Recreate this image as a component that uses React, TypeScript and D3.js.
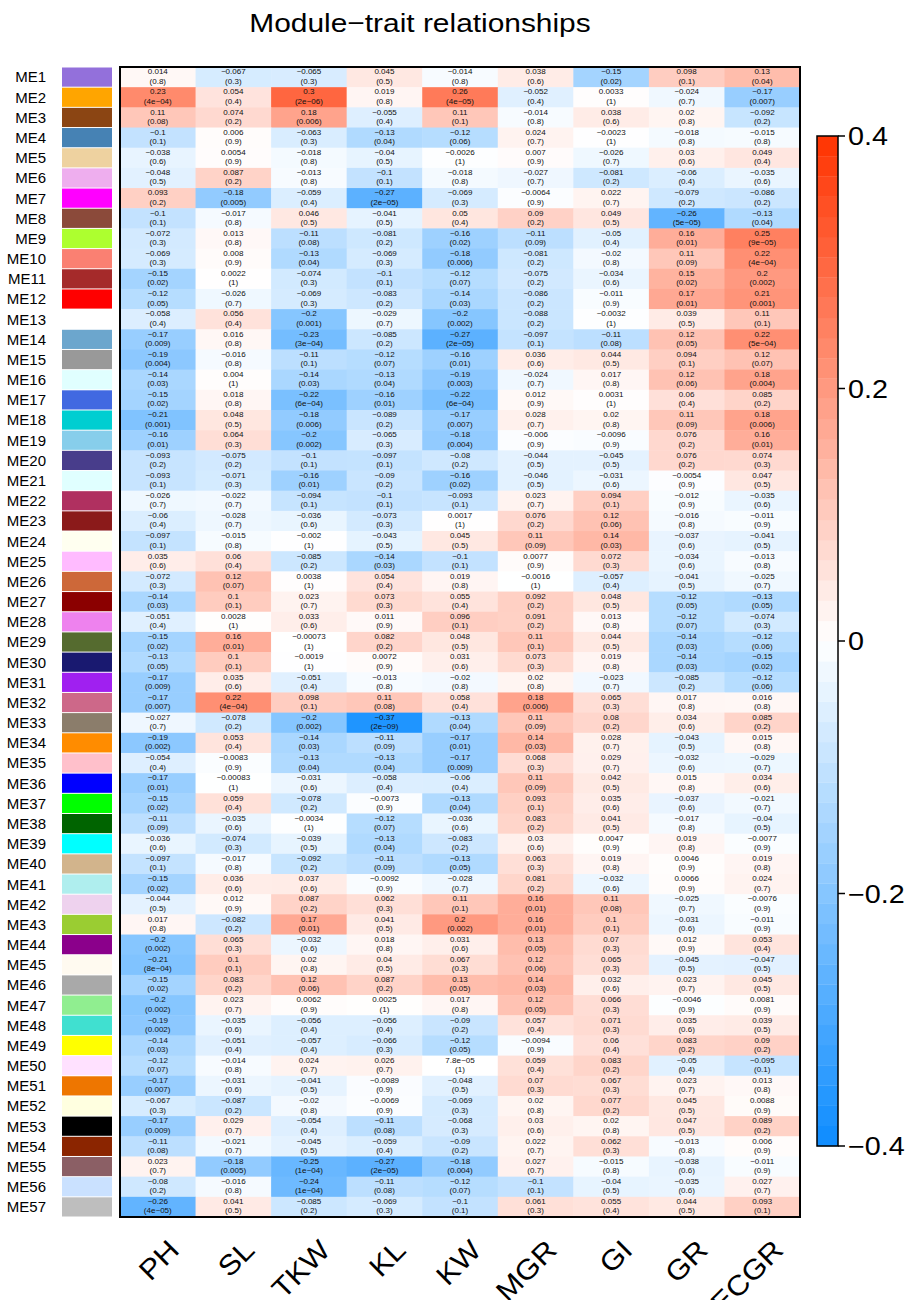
import React from 'react';
import * as d3 from 'd3';

const traits = ['PH', 'SL', 'TKW', 'KL', 'KW', 'MGR', 'GI', 'GR', 'ECGR'];

const modules = Array.from({ length: 57 }, (_, i) => `ME${i + 1}`);

const moduleColors = [
  '#9370DB', '#FFA500', '#8B4513', '#4682B4', '#EED2A0', '#EEAEEE', '#FF00FF', '#8B4A3A',
  '#ADFF2F', '#FA8072', '#A52A2A', '#FF0000', '#FFFFFF', '#6CA6CD', '#999999', '#E0FFFF',
  '#4169E1', '#00CED1', '#87CEEB', '#483D8B', '#E0FFFF', '#B03060', '#8B1A1A', '#FFFFF0',
  '#FFBBFF', '#CD6839', '#8B0000', '#EE82EE', '#556B2F', '#191970', '#A020F0', '#CD6889',
  '#8B7D6B', '#FF8C00', '#FFC0CB', '#0000FF', '#00FF00', '#006400', '#00FFFF', '#D2B48C',
  '#AFEEEE', '#EED2EE', '#9ACD32', '#8B008B', '#FFFAF0', '#A9A9A9', '#90EE90', '#40E0D0',
  '#FFFF00', '#FFE1FF', '#EE7600', '#FFFFE0', '#000000', '#8B2500', '#8B5F65', '#CAE1FF',
  '#BEBEBE',
];

// correlation of each module eigengene with each trait (rows = ME1..ME57)
const corr = [
  [0.014, -0.067, -0.065, 0.045, -0.014, 0.038, -0.15, 0.098, 0.13],
  [0.23, 0.054, 0.3, 0.019, 0.26, -0.052, 0.0033, -0.024, -0.17],
  [0.11, 0.074, 0.18, -0.055, 0.11, -0.014, 0.038, 0.02, -0.092],
  [-0.1, 0.006, -0.063, -0.13, -0.12, 0.024, -0.0023, -0.018, -0.015],
  [-0.038, 0.0054, -0.018, -0.04, -0.0026, 0.007, -0.026, 0.03, 0.049],
  [-0.048, 0.087, -0.013, -0.1, -0.018, -0.027, -0.081, -0.06, -0.035],
  [0.093, -0.18, -0.059, -0.27, -0.069, -0.0064, 0.022, -0.079, -0.086],
  [-0.1, -0.017, 0.046, -0.041, 0.05, 0.09, 0.049, -0.26, -0.13],
  [-0.072, 0.013, -0.11, -0.081, -0.16, -0.11, -0.05, 0.16, 0.25],
  [-0.069, 0.008, -0.13, -0.069, -0.18, -0.081, -0.02, 0.11, 0.22],
  [-0.15, 0.0022, -0.074, -0.1, -0.12, -0.075, -0.034, 0.15, 0.2],
  [-0.12, -0.026, -0.069, -0.083, -0.14, -0.086, -0.011, 0.17, 0.21],
  [-0.058, 0.056, -0.2, -0.029, -0.2, -0.088, -0.0032, 0.039, 0.11],
  [-0.17, 0.016, -0.23, -0.085, -0.27, -0.097, -0.11, 0.12, 0.22],
  [-0.19, -0.016, -0.11, -0.12, -0.16, 0.036, 0.044, 0.094, 0.12],
  [-0.14, 0.004, -0.14, -0.13, -0.19, -0.024, 0.017, 0.12, 0.18],
  [-0.15, 0.018, -0.22, -0.16, -0.22, 0.012, 0.0031, 0.06, 0.085],
  [-0.21, 0.048, -0.18, -0.089, -0.17, 0.028, 0.02, 0.11, 0.18],
  [-0.16, 0.064, -0.2, -0.065, -0.18, -0.006, -0.0096, 0.076, 0.16],
  [-0.093, -0.075, -0.1, -0.097, -0.08, -0.044, -0.045, 0.076, 0.074],
  [-0.093, -0.071, -0.16, -0.09, -0.16, -0.046, -0.031, -0.0054, 0.047],
  [-0.026, -0.022, -0.094, -0.1, -0.093, 0.023, 0.094, -0.012, -0.035],
  [-0.06, -0.028, -0.036, -0.073, 0.0017, 0.076, 0.12, -0.016, -0.011],
  [-0.097, -0.015, -0.002, -0.043, 0.045, 0.11, 0.14, -0.037, -0.041],
  [0.035, 0.06, -0.085, -0.14, -0.1, 0.0077, 0.072, -0.034, -0.013],
  [-0.072, 0.12, 0.0038, 0.054, 0.019, -0.0016, -0.057, -0.041, -0.025],
  [-0.14, 0.1, 0.023, 0.073, 0.055, 0.092, 0.048, -0.12, -0.13],
  [-0.051, 0.0028, 0.033, 0.011, 0.096, 0.091, 0.013, -0.12, -0.074],
  [-0.15, 0.16, -0.00073, 0.082, 0.048, 0.11, 0.044, -0.14, -0.12],
  [-0.13, 0.1, -0.0019, 0.0072, 0.031, 0.073, 0.019, -0.14, -0.15],
  [-0.17, 0.035, -0.051, -0.013, -0.02, 0.02, -0.023, -0.085, -0.12],
  [-0.17, 0.22, 0.098, 0.11, 0.058, 0.18, 0.065, 0.017, 0.016],
  [-0.027, -0.078, -0.2, -0.37, -0.13, 0.11, 0.08, 0.034, 0.085],
  [-0.19, 0.053, -0.14, -0.11, -0.17, 0.14, 0.028, -0.043, 0.015],
  [-0.054, -0.0083, -0.13, -0.13, -0.17, 0.068, 0.029, -0.032, -0.029],
  [-0.17, -0.00083, -0.031, -0.058, -0.06, 0.11, 0.042, 0.015, 0.034],
  [-0.15, 0.059, -0.078, -0.0073, -0.13, 0.093, 0.035, -0.037, -0.021],
  [-0.11, -0.035, -0.0034, -0.12, -0.036, 0.083, 0.041, -0.017, -0.04],
  [-0.036, -0.074, -0.039, -0.13, -0.083, 0.03, 0.0047, 0.019, -0.0077],
  [-0.097, -0.017, -0.092, -0.11, -0.13, 0.063, 0.019, 0.0046, 0.019],
  [-0.15, 0.036, 0.037, -0.0092, -0.028, 0.081, -0.032, 0.0066, 0.024],
  [-0.044, 0.012, 0.087, 0.062, 0.11, 0.16, 0.11, -0.025, -0.0076],
  [0.017, -0.082, 0.17, 0.041, 0.2, 0.16, 0.1, -0.031, -0.011],
  [-0.2, 0.065, -0.032, 0.018, 0.031, 0.13, 0.07, 0.012, 0.053],
  [-0.21, 0.1, 0.02, 0.04, 0.067, 0.12, 0.065, -0.045, -0.047],
  [-0.15, 0.083, 0.12, 0.087, 0.13, 0.14, 0.032, 0.023, 0.045],
  [-0.2, 0.023, 0.0062, 0.0025, 0.017, 0.12, 0.066, -0.0046, 0.0081],
  [-0.19, -0.035, -0.056, -0.056, -0.09, 0.057, 0.071, 0.035, 0.039],
  [-0.14, -0.051, -0.057, -0.066, -0.12, -0.0094, 0.06, 0.083, 0.09],
  [-0.12, -0.014, 0.024, 0.026, 7.8e-05, 0.059, 0.083, -0.05, -0.095],
  [-0.17, -0.031, -0.041, -0.0089, -0.048, 0.07, 0.067, 0.023, 0.013],
  [-0.067, -0.087, -0.02, -0.0069, -0.069, 0.02, 0.077, 0.045, 0.0088],
  [-0.17, 0.029, -0.054, -0.11, -0.068, 0.03, 0.02, 0.047, 0.089],
  [-0.11, -0.021, -0.045, -0.059, -0.09, 0.022, 0.062, -0.013, 0.006],
  [0.023, -0.18, -0.25, -0.27, -0.18, 0.027, -0.015, -0.038, -0.011],
  [-0.08, -0.016, -0.24, -0.11, -0.12, -0.1, -0.04, -0.035, 0.027],
  [-0.26, 0.041, -0.085, -0.069, -0.1, 0.061, 0.055, 0.044, 0.093],
];

// p-values shown in brackets
const pval = [
  [0.8, 0.3, 0.3, 0.5, 0.8, 0.6, 0.02, 0.1, 0.04],
  [4e-4, 0.4, 2e-6, 0.8, 4e-5, 0.4, 1, 0.7, 0.007],
  [0.08, 0.2, 0.006, 0.4, 0.1, 0.8, 0.6, 0.8, 0.2],
  [0.1, 0.9, 0.3, 0.04, 0.06, 0.7, 1, 0.8, 0.8],
  [0.6, 0.9, 0.8, 0.5, 1, 0.9, 0.7, 0.6, 0.4],
  [0.5, 0.2, 0.8, 0.1, 0.8, 0.7, 0.2, 0.4, 0.6],
  [0.2, 0.005, 0.4, 2e-5, 0.3, 0.9, 0.7, 0.2, 0.2],
  [0.1, 0.8, 0.5, 0.5, 0.4, 0.2, 0.5, 5e-5, 0.04],
  [0.3, 0.8, 0.08, 0.2, 0.02, 0.09, 0.4, 0.01, 9e-5],
  [0.3, 0.9, 0.04, 0.3, 0.006, 0.2, 0.8, 0.09, 4e-4],
  [0.02, 1, 0.3, 0.1, 0.07, 0.2, 0.6, 0.02, 0.002],
  [0.05, 0.7, 0.3, 0.2, 0.03, 0.2, 0.9, 0.01, 0.001],
  [0.4, 0.4, 0.001, 0.7, 0.002, 0.2, 1, 0.5, 0.1],
  [0.009, 0.8, 3e-4, 0.2, 2e-5, 0.1, 0.08, 0.05, 5e-4],
  [0.004, 0.8, 0.1, 0.07, 0.01, 0.6, 0.5, 0.1, 0.07],
  [0.03, 1, 0.03, 0.04, 0.003, 0.7, 0.8, 0.06, 0.004],
  [0.02, 0.8, 6e-4, 0.01, 6e-4, 0.9, 1, 0.4, 0.2],
  [0.001, 0.5, 0.006, 0.2, 0.007, 0.7, 0.8, 0.09, 0.006],
  [0.01, 0.3, 0.002, 0.3, 0.004, 0.9, 0.9, 0.2, 0.01],
  [0.2, 0.2, 0.1, 0.1, 0.2, 0.5, 0.5, 0.2, 0.3],
  [0.1, 0.3, 0.01, 0.2, 0.02, 0.5, 0.6, 0.9, 0.5],
  [0.7, 0.7, 0.1, 0.1, 0.1, 0.7, 0.1, 0.9, 0.6],
  [0.4, 0.7, 0.6, 0.3, 1, 0.2, 0.06, 0.8, 0.9],
  [0.1, 0.8, 1, 0.5, 0.5, 0.09, 0.03, 0.6, 0.5],
  [0.6, 0.4, 0.2, 0.03, 0.1, 0.9, 0.3, 0.6, 0.8],
  [0.3, 0.07, 1, 0.4, 0.8, 1, 0.4, 0.5, 0.7],
  [0.03, 0.1, 0.7, 0.3, 0.4, 0.2, 0.5, 0.05, 0.05],
  [0.4, 1, 0.6, 0.9, 0.1, 0.2, 0.8, 0.07, 0.3],
  [0.02, 0.01, 1, 0.2, 0.5, 0.1, 0.5, 0.03, 0.06],
  [0.05, 0.1, 1, 0.9, 0.6, 0.3, 0.8, 0.03, 0.02],
  [0.009, 0.6, 0.4, 0.8, 0.8, 0.8, 0.7, 0.2, 0.06],
  [0.007, 4e-4, 0.1, 0.08, 0.4, 0.006, 0.3, 0.8, 0.8],
  [0.7, 0.2, 0.002, 2e-9, 0.04, 0.09, 0.2, 0.6, 0.2],
  [0.002, 0.4, 0.03, 0.09, 0.01, 0.03, 0.7, 0.5, 0.8],
  [0.4, 0.9, 0.04, 0.04, 0.009, 0.3, 0.7, 0.6, 0.7],
  [0.01, 1, 0.6, 0.4, 0.4, 0.09, 0.5, 0.8, 0.6],
  [0.02, 0.4, 0.2, 0.9, 0.04, 0.1, 0.6, 0.6, 0.7],
  [0.09, 0.6, 1, 0.07, 0.6, 0.2, 0.5, 0.8, 0.5],
  [0.6, 0.3, 0.5, 0.04, 0.2, 0.6, 0.9, 0.8, 0.9],
  [0.1, 0.8, 0.2, 0.09, 0.05, 0.3, 0.8, 0.9, 0.8],
  [0.02, 0.6, 0.6, 0.9, 0.7, 0.2, 0.6, 0.9, 0.7],
  [0.5, 0.9, 0.2, 0.3, 0.1, 0.01, 0.08, 0.7, 0.9],
  [0.8, 0.2, 0.01, 0.5, 0.002, 0.01, 0.1, 0.6, 0.9],
  [0.002, 0.3, 0.6, 0.8, 0.6, 0.05, 0.3, 0.9, 0.4],
  [8e-4, 0.1, 0.8, 0.5, 0.3, 0.06, 0.3, 0.5, 0.5],
  [0.02, 0.2, 0.06, 0.2, 0.05, 0.03, 0.6, 0.7, 0.5],
  [0.002, 0.7, 0.9, 1, 0.8, 0.05, 0.3, 0.9, 0.9],
  [0.002, 0.6, 0.4, 0.4, 0.2, 0.4, 0.3, 0.6, 0.5],
  [0.03, 0.4, 0.4, 0.3, 0.05, 0.9, 0.4, 0.2, 0.2],
  [0.07, 0.8, 0.7, 0.7, 1, 0.4, 0.2, 0.4, 0.1],
  [0.007, 0.6, 0.5, 0.9, 0.5, 0.3, 0.3, 0.7, 0.8],
  [0.3, 0.2, 0.8, 0.9, 0.3, 0.8, 0.2, 0.5, 0.9],
  [0.009, 0.7, 0.4, 0.08, 0.3, 0.6, 0.8, 0.5, 0.2],
  [0.08, 0.7, 0.5, 0.4, 0.2, 0.7, 0.3, 0.8, 0.9],
  [0.7, 0.005, 1e-4, 2e-5, 0.004, 0.7, 0.8, 0.6, 0.9],
  [0.2, 0.8, 1e-4, 0.08, 0.07, 0.1, 0.5, 0.6, 0.7],
  [4e-5, 0.5, 0.2, 0.3, 0.1, 0.3, 0.4, 0.5, 0.1],
];

const legendTicks = [0.4, 0.2, 0, -0.2, -0.4];

const FONT = 'Liberation Sans, Arial, Helvetica, sans-serif';

const padExp = (s: string) => s.replace(/e([+-])(\d)$/, 'e$10$2');
const minus = (s: string) => s.replace(/-/g, '\u2212');

const fmtR = (v: number) =>
  minus(v !== 0 && Math.abs(v) < 1e-4 ? padExp(v.toExponential(1)) : String(v));
const fmtP = (p: number) =>
  '(' + minus(p < 0.001 ? padExp(p.toExponential(0)) : String(p)) + ')';

export default function App() {
  const width = 924;
  const height = 1300;
  const plot = { left: 120, right: 800, top: 67, bottom: 1217 };

  const x = d3.scaleBand<string>().domain(traits).range([plot.left, plot.right]);
  const y = d3.scaleBand<string>().domain(modules).range([plot.top, plot.bottom]);

  const color = d3
    .scaleLinear<string>()
    .domain([-0.4, 0, 0.4])
    .range(['#0D8CFF', '#FFFFFF', '#FF3300'])
    .interpolate(d3.interpolateRgb)
    .clamp(true);

  const bar = { x: 817, w: 21, top: 136, bottom: 1146 };
  const yLegend = d3.scaleLinear().domain([-0.4, 0.4]).range([bar.bottom, bar.top]);
  const nSteps = 50;
  const steps = d3.range(nSteps).map((i) => -0.4 + (0.8 * (i + 0.5)) / nSteps);
  const stepH = (bar.bottom - bar.top) / nSteps;

  return (
    <svg
      width={width}
      height={height}
      style={{ position: 'absolute', left: 0, top: 0, background: '#fff' }}
      fontFamily={FONT}
    >
      <text
        transform={`translate(420,32) scale(1.15,1)`}
        textAnchor="middle"
        fontSize={26}
      >
        Module{'\u2212'}trait relationships
      </text>

      {/* cells */}
      {corr.map((row, i) =>
        row.map((v, j) => {
          const cx = x(traits[j])! + x.bandwidth() / 2;
          const y0 = y(modules[i])!;
          return (
            <g key={`${i}-${j}`}>
              <rect
                x={x(traits[j])}
                y={y0}
                width={x.bandwidth() + 0.5}
                height={y.bandwidth() + 0.5}
                fill={color(v)}
              />
              <text
                transform={`translate(${cx},${y0 + 7.3}) scale(1.15,1)`}
                textAnchor="middle"
                fontSize={7}
                fill="#111"
              >
                {fmtR(v)}
              </text>
              <text
                transform={`translate(${cx},${y0 + 16.6}) scale(1.15,1)`}
                textAnchor="middle"
                fontSize={7}
                fill="#111"
              >
                {fmtP(pval[i][j])}
              </text>
            </g>
          );
        })
      )}

      <rect
        x={plot.left}
        y={plot.top}
        width={plot.right - plot.left}
        height={plot.bottom - plot.top}
        fill="none"
        stroke="#000"
        strokeWidth={2}
      />

      {/* module colour swatches and labels */}
      {modules.map((m, i) => (
        <g key={m}>
          <rect
            x={62}
            y={y(m)! + 0.5}
            width={50}
            height={y.bandwidth() - 1}
            fill={moduleColors[i]}
          />
          <text
            x={46}
            y={y(m)! + y.bandwidth() / 2}
            dy="0.36em"
            textAnchor="end"
            fontSize={15}
          >
            {m}
          </text>
        </g>
      ))}

      {/* trait labels */}
      {traits.map((t) => {
        const cx = x(t)! + x.bandwidth() / 2 + 9;
        return (
          <text
            key={t}
            transform={`translate(${cx},1238) rotate(-45) scale(1.1,1)`}
            textAnchor="end"
            dy="0.7em"
            fontSize={28}
          >
            {t}
          </text>
        );
      })}

      {/* colour legend */}
      {steps.map((s, i) => (
        <rect
          key={i}
          x={bar.x}
          y={bar.bottom - (i + 1) * stepH}
          width={bar.w}
          height={stepH + 0.3}
          fill={color(s)}
        />
      ))}
      <rect
        x={bar.x}
        y={bar.top}
        width={bar.w}
        height={bar.bottom - bar.top}
        fill="none"
        stroke="#000"
        strokeWidth={1.5}
      />
      {legendTicks.map((t) => (
        <g key={t}>
          <line
            x1={bar.x + bar.w}
            x2={bar.x + bar.w + 7}
            y1={yLegend(t)}
            y2={yLegend(t)}
            stroke="#000"
            strokeWidth={1.5}
          />
          <text
            transform={`translate(848,${yLegend(t)}) scale(1.15,1)`}
            dy="0.36em"
            fontSize={25}
          >
            {minus(String(t))}
          </text>
        </g>
      ))}
    </svg>
  );
}
